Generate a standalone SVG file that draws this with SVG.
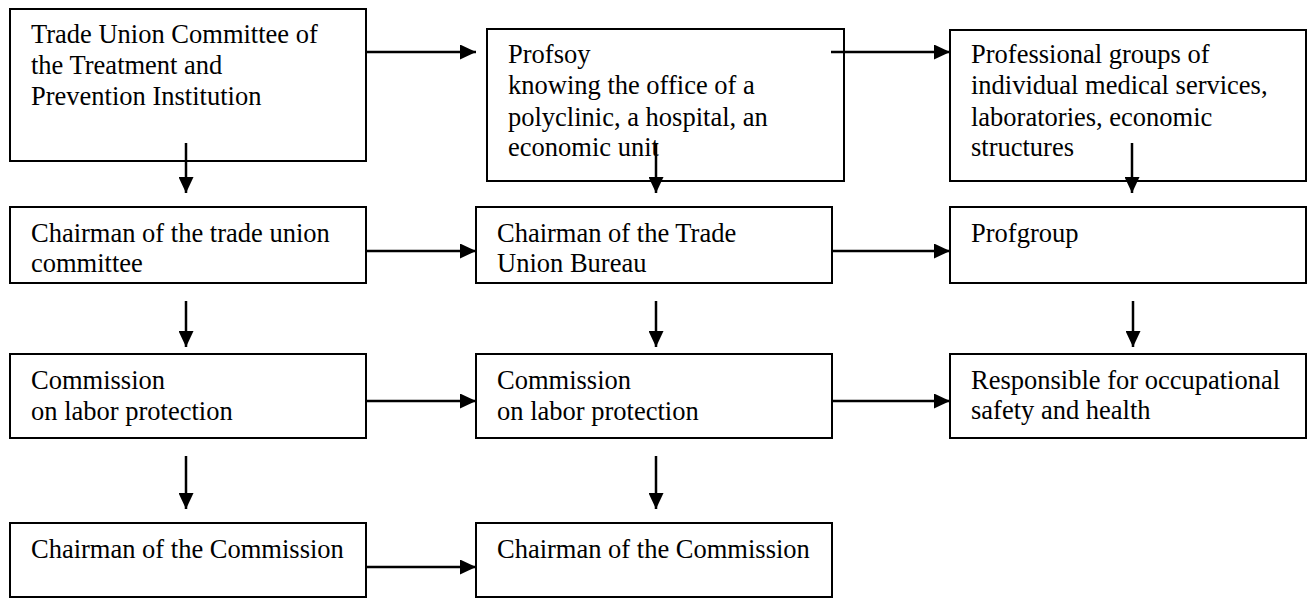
<svg xmlns="http://www.w3.org/2000/svg" width="1312" height="599" viewBox="0 0 1312 599">
<style>
.box{fill:#fff;stroke:#000;stroke-width:2}
.t{font-family:"Liberation Serif","Times New Roman",serif;font-size:26.5px;fill:#000}
.c{stroke:#000;stroke-width:2.5;fill:none;marker-end:url(#ah)}
</style>
<defs>
<marker id="ah" markerUnits="userSpaceOnUse" markerWidth="16" markerHeight="15" refX="16" refY="7.5" orient="auto">
<path d="M0,0 L16,7.5 L0,15 z" fill="#000"/>
</marker>
</defs>
<rect width="1312" height="599" fill="#fff"/>
<g id="n1"><rect class="box" x="10" y="9" width="356" height="152"/>
<text class="t" x="31" y="43">Trade Union Committee of</text>
<text class="t" x="31" y="74">the Treatment and</text>
<text class="t" x="31" y="105">Prevention Institution</text></g>
<g id="n2"><rect class="box" x="487" y="29" width="357" height="152"/>
<text class="t" x="508" y="63">Profsoy</text>
<text class="t" x="508" y="94">knowing the office of a</text>
<text class="t" x="508" y="126">polyclinic, a hospital, an</text>
<text class="t" x="508" y="156">economic unit</text></g>
<g id="n3"><rect class="box" x="950" y="30" width="356" height="151"/>
<text class="t" x="971" y="63">Professional groups of</text>
<text class="t" x="971" y="94">individual medical services,</text>
<text class="t" x="971" y="126">laboratories, economic</text>
<text class="t" x="971" y="156">structures</text></g>
<g id="n4"><rect class="box" x="10" y="207" width="356" height="76"/>
<text class="t" x="31" y="242">Chairman of the trade union</text>
<text class="t" x="31" y="272">committee</text></g>
<g id="n5"><rect class="box" x="476" y="207" width="356" height="76"/>
<text class="t" x="497" y="242">Chairman of the Trade</text>
<text class="t" x="497" y="272">Union Bureau</text></g>
<g id="n6"><rect class="box" x="950" y="207" width="356" height="76"/>
<text class="t" x="971" y="242">Profgroup</text></g>
<g id="n7"><rect class="box" x="10" y="354" width="356" height="84"/>
<text class="t" x="31" y="389">Commission</text>
<text class="t" x="31" y="420">on labor protection</text></g>
<g id="n8"><rect class="box" x="476" y="354" width="356" height="84"/>
<text class="t" x="497" y="389">Commission</text>
<text class="t" x="497" y="420">on labor protection</text></g>
<g id="n9"><rect class="box" x="950" y="354" width="356" height="84"/>
<text class="t" x="971" y="389">Responsible for occupational</text>
<text class="t" x="971" y="419">safety and health</text></g>
<g id="n10"><rect class="box" x="10" y="523" width="356" height="74"/>
<text class="t" x="31" y="558">Chairman of the Commission</text></g>
<g id="n11"><rect class="box" x="476" y="523" width="356" height="74"/>
<text class="t" x="497" y="558">Chairman of the Commission</text></g>
<g id="connectors">
<line class="c" x1="366" y1="52" x2="476" y2="52"/>
<line class="c" x1="831" y1="52" x2="950" y2="52"/>
<line class="c" x1="366" y1="251" x2="476" y2="251"/>
<line class="c" x1="832" y1="251" x2="950" y2="251"/>
<line class="c" x1="366" y1="401" x2="476" y2="401"/>
<line class="c" x1="832" y1="401" x2="950" y2="401"/>
<line class="c" x1="366" y1="567" x2="476" y2="567"/>
<line class="c" x1="186" y1="143" x2="186" y2="193"/>
<line class="c" x1="656" y1="143" x2="656" y2="193"/>
<line class="c" x1="1132" y1="143" x2="1132" y2="193"/>
<line class="c" x1="186" y1="301" x2="186" y2="347"/>
<line class="c" x1="656" y1="301" x2="656" y2="347"/>
<line class="c" x1="1133" y1="301" x2="1133" y2="347"/>
<line class="c" x1="186" y1="456" x2="186" y2="509"/>
<line class="c" x1="656" y1="456" x2="656" y2="509"/>
</g>
</svg>
